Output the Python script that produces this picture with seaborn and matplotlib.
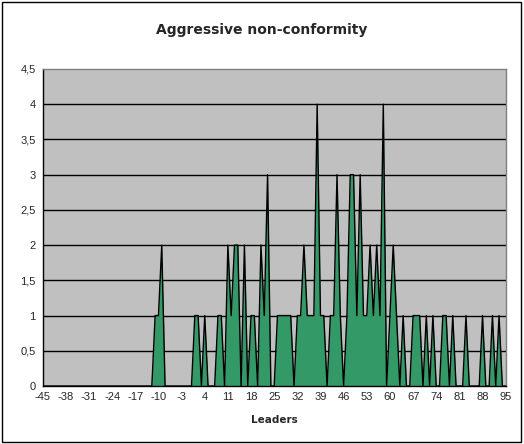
import matplotlib
matplotlib.use("Agg")
import matplotlib.pyplot as plt
import numpy as np
import seaborn as sns
from matplotlib.patches import Rectangle
from matplotlib.ticker import MultipleLocator, FixedLocator

# categories on the x axis (leaders score)
leaders = np.arange(-45, 96)

# counts, rows of 10 starting at -45
counts = [
    0, 0, 0, 0, 0, 0, 0, 0, 0, 0,   # -45..-36
    0, 0, 0, 0, 0, 0, 0, 0, 0, 0,   # -35..-26
    0, 0, 0, 0, 0, 0, 0, 0, 0, 0,   # -25..-16
    0, 0, 0, 0, 1, 1, 2, 0, 0, 0,   # -15..-6
    0, 0, 0, 0, 0, 0, 1, 1, 0, 1,   # -5..4
    0, 0, 0, 1, 1, 0, 2, 1, 2, 2,   # 5..14
    0, 2, 0, 1, 1, 0, 2, 1, 3, 0,   # 15..24
    0, 1, 1, 1, 1, 1, 0, 1, 1, 2,   # 25..34
    1, 1, 1, 4, 1, 1, 0, 1, 1, 3,   # 35..44
    1, 0, 1, 3, 3, 1, 3, 1, 1, 2,   # 45..54
    1, 2, 1, 4, 0, 1, 2, 1, 0, 1,   # 55..64
    0, 0, 1, 1, 1, 0, 1, 0, 1, 0,   # 65..74
    0, 1, 1, 0, 1, 0, 0, 0, 1, 0,   # 75..84
    0, 0, 0, 1, 0, 0, 1, 0, 1, 0,   # 85..94
    0,                              # 95
]
label_step = 7
y_ticks = [0, 0.5, 1, 1.5, 2, 2.5, 3, 3.5, 4, 4.5]

sns.set_style("white")
plt.rcParams["font.family"] = ["Liberation Sans", "DejaVu Sans"]

fig = plt.figure(figsize=(5.24, 4.44), dpi=100)
fig.patch.set_facecolor("white")
fig.patches.append(Rectangle((0.004, 0.005), 0.99, 0.99, transform=fig.transFigure,
                             fill=False, edgecolor="black", linewidth=1.0))

ax = fig.add_axes([0.0815, 0.1306, 0.8835, 0.714])
ax.set_facecolor("#C0C0C0")

ax.fill_between(leaders, counts, 0, color="#339966", linewidth=0, zorder=2)
sns.lineplot(x=leaders, y=counts, color="black", linewidth=1.0, ax=ax, zorder=3)

ax.set_xlim(leaders[0], leaders[-1])
ax.set_ylim(0, 4.5)

ax.yaxis.set_major_locator(FixedLocator(y_ticks))
ax.set_yticklabels([f"{v:g}".replace(".", ",") for v in y_ticks])
for v in y_ticks[1:-1]:
    ax.axhline(v, color="black", linewidth=1.0, zorder=1)

ax.xaxis.set_major_locator(FixedLocator(leaders[::label_step]))
ax.xaxis.set_minor_locator(MultipleLocator(1))
ax.set_xticklabels([str(v) for v in leaders[::label_step]])

ax.tick_params(axis="both", which="major", length=3, width=0.8, direction="out",
               labelsize=8, pad=1, color="black")
ax.tick_params(axis="x", which="minor", length=3, width=0.6, direction="out", color="black")
ax.tick_params(axis="y", which="major", pad=2)

for side in ["top", "right"]:
    ax.spines[side].set_color("#808080")
    ax.spines[side].set_linewidth(1.0)
for side in ["left", "bottom"]:
    ax.spines[side].set_color("black")
    ax.spines[side].set_linewidth(1.0)

ax.set_xlabel("Leaders", fontsize=7.5, fontweight="bold", labelpad=10,
              family=["DejaVu Sans"])
ax.set_ylabel("")
fig.text(0.5, 0.932, "Aggressive non-conformity", ha="center", va="center",
         fontsize=10, fontweight="bold", family=["DejaVu Sans"])

fig.savefig("out.png", dpi=100)
